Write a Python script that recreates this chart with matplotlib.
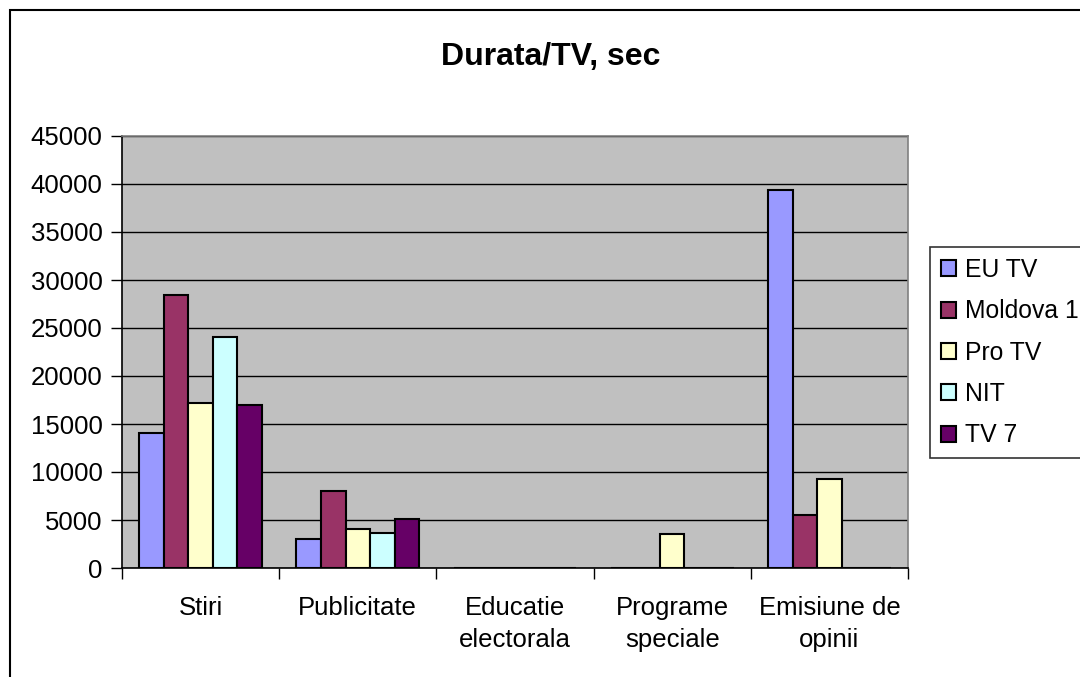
import matplotlib.pyplot as plt
from matplotlib.patches import Rectangle
import numpy as np

plt.rcParams['font.family'] = ['Liberation Sans', 'DejaVu Sans']
plt.rcParams['font.size'] = 18.5

# Data
categories = ['Stiri', 'Publicitate', 'Educatie\nelectorala', 'Programe\nspeciale', 'Emisiune de\nopinii']
series_names = ['EU TV', 'Moldova 1', 'Pro TV', 'NIT', 'TV 7']
eu_tv = [14100, 3000, 0, 0, 39400]
moldova1 = [28400, 8000, 0, 0, 5500]
pro_tv = [17200, 4100, 0, 3500, 9300]
nit = [24100, 3600, 0, 0, 0]
tv7 = [17000, 5100, 0, 0, 0]
colors = ['#9999FF', '#993366', '#FFFFCC', '#CCFFFF', '#660066']

fig = plt.figure(figsize=(10.8, 6.77), dpi=100)
ax = fig.add_axes([122/1080, 1-568/677, 786/1080, 432/677])
ax.set_facecolor('#C0C0C0')

x = np.arange(len(categories))
width = 0.156
all_series = [eu_tv, moldova1, pro_tv, nit, tv7]
for i, (vals, name, c) in enumerate(zip(all_series, series_names, colors)):
    offs = (i - 2) * width
    ax.bar(x + offs, vals, width, color=c, edgecolor='black', linewidth=1.5,
           label=name, zorder=3)

ax.set_xlim(-0.5, len(categories) - 0.5)
ax.set_ylim(0, 45000)
ax.set_yticks(np.arange(0, 45001, 5000))
ax.yaxis.grid(True, color='black', linewidth=1, zorder=1)
ax.set_axisbelow(True)

ax.set_xticks(x)
ax.set_xticklabels(categories, linespacing=1.45)
ax.set_xticks(np.arange(-0.5, len(categories), 1), minor=True)
ax.tick_params(axis='x', which='major', length=0, pad=20)
ax.tick_params(axis='x', which='minor', length=8, width=1, direction='out')
ax.tick_params(axis='y', length=8, width=1, direction='out', pad=6)

for s in ['top', 'right']:
    ax.spines[s].set_color('#808080')
    ax.spines[s].set_linewidth(1.2)
for s in ['left', 'bottom']:
    ax.spines[s].set_color('black')
    ax.spines[s].set_linewidth(1.2)

fig.text(551/1080, 1-57/677, 'Durata/TV, sec', ha='center', va='center',
         fontsize=23, fontweight='bold')

leg = fig.legend(loc='upper left', bbox_to_anchor=(930/1080, 1-247/677),
                 frameon=True, fancybox=False, edgecolor='black', fontsize=17.8,
                 handlelength=0.62, handleheight=0.62, handletextpad=0.35,
                 labelspacing=0.7, borderpad=0.45, borderaxespad=0)
leg.get_frame().set_linewidth(1.2)

# outer chart frame
fig.patches.append(Rectangle((10/1080, -0.1), 1.2, 1.1 - 10/677,
                             transform=fig.transFigure, fill=False,
                             edgecolor='black', linewidth=1.5))

plt.savefig('out.png', dpi=100)
